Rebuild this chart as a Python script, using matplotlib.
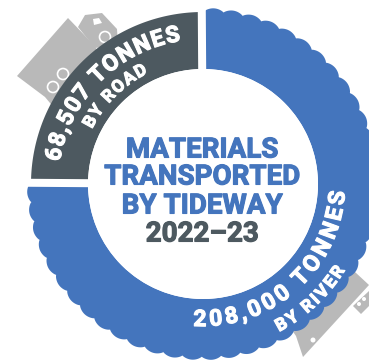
import numpy as np
import matplotlib
matplotlib.use('Agg')
import matplotlib.pyplot as plt
import matplotlib.patheffects as pe
from matplotlib.patches import Polygon, Circle
from matplotlib.textpath import TextPath
from matplotlib.font_manager import FontProperties

# Tonnes moved by each mode, 2022-23
modes = ['road', 'river']
tonnes = [68507, 208000]
title_lines = ['MATERIALS', 'TRANSPORTED', 'BY TIDEWAY']
period = '2022\u201323'
road_labels = ['68,507 TONNES', 'BY ROAD']
river_labels = ['208,000 TONNES', 'BY RIVER']

BLUE = '#4475bd'
SLATE = '#4d5960'
GREY = '#b9b9b9'
FONT = 'Roboto'

W, H = 369, 364
CX, CY = 203, 184
R_IN, R_OUT = 115, 172

fig = plt.figure(figsize=(W / 100, H / 100), dpi=100)
ax = fig.add_axes([0, 0, 1, 1])
ax.set_xlim(0, W)
ax.set_ylim(H, 0)
ax.set_aspect('equal')
ax.axis('off')


def polar(r, deg):
    a = np.radians(deg)
    return CX + r * np.cos(a), CY - r * np.sin(a)


# slice angles come from the tonnage split, road sits in the top left
road_span = 360 * tonnes[0] / sum(tonnes)
road_start = 135 - road_span / 2
road_end = road_start + road_span

# trucks behind the ring
truck1 = [(68, 18), (92, 43), (105, 60), (60, 115), (45, 97), (17, 76)]
cab1 = [(78, 27), (85, 15), (102, 13), (117, 29), (118, 45), (95, 48)]
truck2 = [(355, 272), (369, 285), (303, 357), (296, 336), (285, 320), (340, 260)]
cab2 = [(369, 291), (369, 306), (361, 314), (353, 306)]
for pts in (truck1, cab1, truck2, cab2):
    ax.add_patch(Polygon(pts, closed=True, fc=GREY, ec='none', zorder=1))
ax.add_patch(Polygon([(93, 19), (99, 18), (102, 23), (94, 25)], closed=True, fc='white', ec='none', zorder=1.5))
for x, y in [(53, 87), (63, 74), (105, 37)]:
    ax.add_patch(Circle((x, y), 5.5, fc=GREY, ec='white', lw=1.2, zorder=1.5))
ax.add_patch(Circle((313, 340), 2.5, fc='white', ec='none', zorder=1.5))
for x, y in [(359, 304), (364, 299)]:
    ax.add_patch(Circle((x, y), 2, fc='white', ec='none', zorder=1.5))

# road slice
theta = np.radians(np.linspace(road_start, road_end, 200))
outer = np.column_stack([CX + R_OUT * np.cos(theta), CY - R_OUT * np.sin(theta)])
inner = np.column_stack([CX + R_IN * np.cos(theta[::-1]), CY - R_IN * np.sin(theta[::-1])])
ax.add_patch(Polygon(np.vstack([outer, inner]), closed=True, fc=SLATE, ec='none', zorder=2))

# river slice, scalloped outer edge like a tyre
theta = np.linspace(road_end, road_start + 360, 1600)
bumps = np.abs(np.sin(np.radians(theta - road_end) * 28)) ** 0.7
r_edge = 172.5 + 3.5 * bumps
outer = np.column_stack([CX + r_edge * np.cos(np.radians(theta)), CY - r_edge * np.sin(np.radians(theta))])
rev = np.radians(theta[::-1])
inner = np.column_stack([CX + R_IN * np.cos(rev), CY - R_IN * np.sin(rev)])
ax.add_patch(Polygon(np.vstack([outer, inner]), closed=True, fc=BLUE, ec='none', zorder=2))

# white gaps between the slices
for ang in (road_start, road_end):
    x, y = polar(190, ang)
    ax.plot([CX, x], [CY, y], color='white', lw=8 * 0.72, solid_capstyle='butt', zorder=3)
ax.add_patch(Circle((CX, CY), R_IN, fc='white', ec='none', zorder=3))


def curved_text(label, r_mid, mid_deg, size, top=True, track=0.0, cap=0.71):
    # lay the string out letter by letter along an arc
    fp = FontProperties(family=FONT, weight='bold', size=size)
    px = size * 100 / 72
    bar = TextPath((0, 0), '|', prop=fp).get_extents().x1
    widths = []
    for ch in label:
        tp = TextPath((0, 0), ch + '|', prop=fp)
        widths.append((tp.get_extents().x1 - bar) * 100 / 72 + track)
    total = sum(widths)
    h = cap * px
    r = r_mid - h / 2 if top else r_mid + h / 2
    pos = -total / 2
    for ch, w in zip(label, widths):
        off = np.degrees((pos + w / 2) / r_mid)
        ang = mid_deg - off if top else mid_deg + off
        x, y = polar(r, ang)
        rot = ang - 90 if top else ang + 90
        ax.text(x, y, ch, family=FONT, weight='bold', fontsize=size, color='white',
                rotation=rot, rotation_mode='anchor', ha='center', va='baseline', zorder=4,
                path_effects=[pe.withStroke(linewidth=0.8, foreground='white')])
        pos += w


curved_text(road_labels[0], 153, 135, 16.5, top=True, track=2.2)
curved_text(road_labels[1], 130, 135, 12.5, top=True, track=2.0)
curved_text(river_labels[0], 134, -48.5, 16.5, top=False, track=2.6)
curved_text(river_labels[1], 160, -47, 12.5, top=False, track=2.0)

# centre heading
for line, y in zip(title_lines, [150, 177, 206]):
    ax.text(CX - 1, y, line, family=FONT, weight='bold', fontsize=20, color=BLUE,
            ha='center', va='center', zorder=4,
            path_effects=[pe.withStroke(linewidth=0.8, foreground=BLUE)])
ax.text(CX - 1, 234, period, family=FONT, weight='bold', fontsize=20, color=SLATE,
        ha='center', va='center', zorder=4,
        path_effects=[pe.withStroke(linewidth=0.8, foreground=SLATE)])

fig.savefig('out.png', dpi=100, facecolor='white')
